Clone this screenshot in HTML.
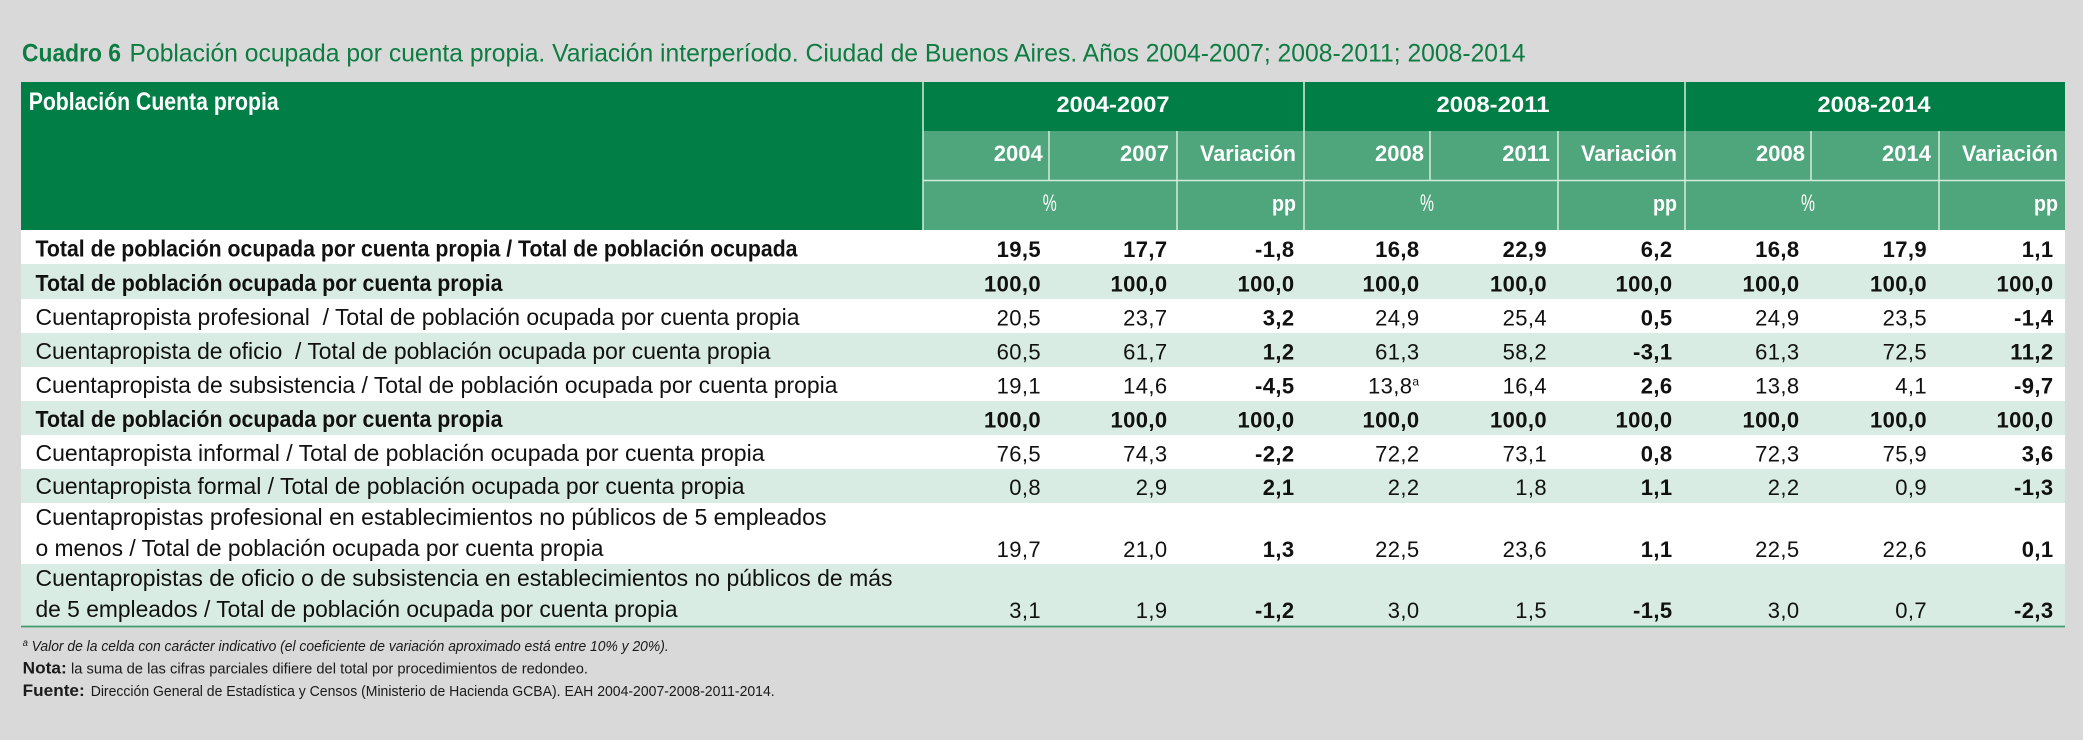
<!DOCTYPE html>
<html>
<head>
<meta charset="utf-8">
<style>
html,body{margin:0;padding:0;background:#d9d9d9;}
svg{display:block;}
.lbl{font-family:"Liberation Sans Narrow","Liberation Sans",sans-serif;font-size:23px;fill:#111;white-space:pre;}
.b{font-weight:bold;}
.num{font-family:"Liberation Sans",sans-serif;font-size:22px;fill:#111;text-anchor:end;letter-spacing:0.4px;}
.hd{font-family:"Liberation Sans",sans-serif;font-size:22px;fill:#fff;font-weight:bold;}
.ft{font-family:"Liberation Sans Narrow","Liberation Sans",sans-serif;font-size:15px;fill:#1a1a1a;white-space:pre;}
.tt{font-family:"Liberation Sans Narrow","Liberation Sans",sans-serif;font-size:25px;fill:#0c7c41;white-space:pre;}
</style>
</head>
<body>
<svg width="2083" height="740" viewBox="0 0 2083 740" xmlns="http://www.w3.org/2000/svg">
<rect x="0" y="0" width="2083" height="740" fill="#d9d9d9"/>

<!-- Title -->
<text class="tt b" x="22" y="61.5" textLength="99" lengthAdjust="spacingAndGlyphs">Cuadro 6</text>
<text class="tt" x="129.5" y="61.5" textLength="1396" lengthAdjust="spacingAndGlyphs">Población ocupada por cuenta propia. Variación interperíodo. Ciudad de Buenos Aires. Años 2004-2007; 2008-2011; 2008-2014</text>

<!-- Header backgrounds -->
<rect x="21" y="82" width="902" height="148" fill="#007e45"/>
<rect x="923" y="82" width="1142" height="49" fill="#007e45"/>
<rect x="923" y="131" width="1142" height="99" fill="#4fa67c"/>

<!-- Header lines -->
<g stroke="#d6ebdf" stroke-width="1.5">
<line x1="923" y1="82" x2="923" y2="230"/>
<line x1="1304" y1="82" x2="1304" y2="230"/>
<line x1="1685" y1="82" x2="1685" y2="230"/>
<line x1="923" y1="180.5" x2="2065" y2="180.5"/>
<line x1="1049" y1="131" x2="1049" y2="180"/>
<line x1="1177" y1="131" x2="1177" y2="230"/>
<line x1="1430" y1="131" x2="1430" y2="180"/>
<line x1="1558" y1="131" x2="1558" y2="230"/>
<line x1="1811" y1="131" x2="1811" y2="180"/>
<line x1="1939" y1="131" x2="1939" y2="230"/>
</g>

<!-- Header text -->
<text class="hd" x="28.7" y="110" textLength="250" lengthAdjust="spacingAndGlyphs" style="font-family:'Liberation Sans Narrow','Liberation Sans',sans-serif;font-size:25px;">Población Cuenta propia</text>

<text class="hd" x="1113" y="112" text-anchor="middle" textLength="113" lengthAdjust="spacingAndGlyphs">2004-2007</text>
<text class="hd" x="1493" y="112" text-anchor="middle" textLength="113" lengthAdjust="spacingAndGlyphs">2008-2011</text>
<text class="hd" x="1874" y="112" text-anchor="middle" textLength="113" lengthAdjust="spacingAndGlyphs">2008-2014</text>

<text class="hd" x="1042.7" y="161" text-anchor="end">2004</text>
<text class="hd" x="1169" y="161" text-anchor="end">2007</text>
<text class="hd" x="1296" y="161" text-anchor="end" textLength="96" lengthAdjust="spacingAndGlyphs">Variación</text>
<text class="hd" x="1424" y="161" text-anchor="end">2008</text>
<text class="hd" x="1550" y="161" text-anchor="end">2011</text>
<text class="hd" x="1677" y="161" text-anchor="end" textLength="96" lengthAdjust="spacingAndGlyphs">Variación</text>
<text class="hd" x="1805" y="161" text-anchor="end">2008</text>
<text class="hd" x="1931" y="161" text-anchor="end">2014</text>
<text class="hd" x="2058" y="161" text-anchor="end" textLength="96" lengthAdjust="spacingAndGlyphs">Variación</text>

<text class="hd" x="1049.7" y="211" text-anchor="middle" textLength="14" lengthAdjust="spacingAndGlyphs" style="font-weight:normal;font-size:24px">%</text>
<text class="hd" x="1427" y="211" text-anchor="middle" textLength="14" lengthAdjust="spacingAndGlyphs" style="font-weight:normal;font-size:24px">%</text>
<text class="hd" x="1808" y="211" text-anchor="middle" textLength="14" lengthAdjust="spacingAndGlyphs" style="font-weight:normal;font-size:24px">%</text>
<text class="hd" x="1296" y="211" text-anchor="end" textLength="24" lengthAdjust="spacingAndGlyphs">pp</text>
<text class="hd" x="1677" y="211" text-anchor="end" textLength="24" lengthAdjust="spacingAndGlyphs">pp</text>
<text class="hd" x="2058" y="211" text-anchor="end" textLength="24" lengthAdjust="spacingAndGlyphs">pp</text>

<!-- Data row backgrounds -->
<rect x="21" y="230" width="2044" height="34" fill="#ffffff"/>
<rect x="21" y="264" width="2044" height="35" fill="#d9ece3"/>
<rect x="21" y="299" width="2044" height="34" fill="#ffffff"/>
<rect x="21" y="333" width="2044" height="34" fill="#d9ece3"/>
<rect x="21" y="367" width="2044" height="34" fill="#ffffff"/>
<rect x="21" y="401" width="2044" height="34" fill="#d9ece3"/>
<rect x="21" y="435" width="2044" height="34" fill="#ffffff"/>
<rect x="21" y="469" width="2044" height="34" fill="#d9ece3"/>
<rect x="21" y="503" width="2044" height="61" fill="#ffffff"/>
<rect x="21" y="564" width="2044" height="62" fill="#d9ece3"/>
<line x1="21" y1="626.5" x2="2065" y2="626.5" stroke="#3f9b6d" stroke-width="1.8"/>

<!-- Row labels -->
<text class="lbl b" x="35.5" y="256.5" textLength="762" lengthAdjust="spacingAndGlyphs">Total de población ocupada por cuenta propia / Total de población ocupada</text>
<text class="lbl b" x="35.5" y="291" textLength="467" lengthAdjust="spacingAndGlyphs">Total de población ocupada por cuenta propia</text>
<text class="lbl" x="35.5" y="325" textLength="764" lengthAdjust="spacingAndGlyphs">Cuentapropista profesional  / Total de población ocupada por cuenta propia</text>
<text class="lbl" x="35.5" y="359" textLength="735" lengthAdjust="spacingAndGlyphs">Cuentapropista de oficio  / Total de población ocupada por cuenta propia</text>
<text class="lbl" x="35.5" y="393" textLength="802" lengthAdjust="spacingAndGlyphs">Cuentapropista de subsistencia / Total de población ocupada por cuenta propia</text>
<text class="lbl b" x="35.5" y="427" textLength="467" lengthAdjust="spacingAndGlyphs">Total de población ocupada por cuenta propia</text>
<text class="lbl" x="35.5" y="461" textLength="729" lengthAdjust="spacingAndGlyphs">Cuentapropista informal / Total de población ocupada por cuenta propia</text>
<text class="lbl" x="35.5" y="494" textLength="709" lengthAdjust="spacingAndGlyphs">Cuentapropista formal / Total de población ocupada por cuenta propia</text>
<text class="lbl" x="35.5" y="525" textLength="791" lengthAdjust="spacingAndGlyphs">Cuentapropistas profesional en establecimientos no públicos de 5 empleados</text>
<text class="lbl" x="35.5" y="556" textLength="568" lengthAdjust="spacingAndGlyphs">o menos / Total de población ocupada por cuenta propia</text>
<text class="lbl" x="35.5" y="586" textLength="857" lengthAdjust="spacingAndGlyphs">Cuentapropistas de oficio o de subsistencia en establecimientos no públicos de más</text>
<text class="lbl" x="35.5" y="617" textLength="642" lengthAdjust="spacingAndGlyphs">de 5 empleados / Total de población ocupada por cuenta propia</text>

<!-- Row 1 -->
<g font-weight="bold">
<text class="num" x="1041" y="257">19,5</text>
<text class="num" x="1167.5" y="257">17,7</text>
<text class="num" x="1294.5" y="257">-1,8</text>
<text class="num" x="1419.5" y="257">16,8</text>
<text class="num" x="1547" y="257">22,9</text>
<text class="num" x="1672.5" y="257">6,2</text>
<text class="num" x="1799.5" y="257">16,8</text>
<text class="num" x="1927" y="257">17,9</text>
<text class="num" x="2053.5" y="257">1,1</text>
</g>
<!-- Row 2 -->
<g font-weight="bold">
<text class="num" x="1041" y="291.5">100,0</text>
<text class="num" x="1167.5" y="291.5">100,0</text>
<text class="num" x="1294.5" y="291.5">100,0</text>
<text class="num" x="1419.5" y="291.5">100,0</text>
<text class="num" x="1547" y="291.5">100,0</text>
<text class="num" x="1672.5" y="291.5">100,0</text>
<text class="num" x="1799.5" y="291.5">100,0</text>
<text class="num" x="1927" y="291.5">100,0</text>
<text class="num" x="2053.5" y="291.5">100,0</text>
</g>
<!-- Row 3 -->
<text class="num" x="1041" y="325.5">20,5</text>
<text class="num" x="1167.5" y="325.5">23,7</text>
<text class="num" x="1294.5" y="325.5" font-weight="bold">3,2</text>
<text class="num" x="1419.5" y="325.5">24,9</text>
<text class="num" x="1547" y="325.5">25,4</text>
<text class="num" x="1672.5" y="325.5" font-weight="bold">0,5</text>
<text class="num" x="1799.5" y="325.5">24,9</text>
<text class="num" x="1927" y="325.5">23,5</text>
<text class="num" x="2053.5" y="325.5" font-weight="bold">-1,4</text>
<!-- Row 4 -->
<text class="num" x="1041" y="359.5">60,5</text>
<text class="num" x="1167.5" y="359.5">61,7</text>
<text class="num" x="1294.5" y="359.5" font-weight="bold">1,2</text>
<text class="num" x="1419.5" y="359.5">61,3</text>
<text class="num" x="1547" y="359.5">58,2</text>
<text class="num" x="1672.5" y="359.5" font-weight="bold">-3,1</text>
<text class="num" x="1799.5" y="359.5">61,3</text>
<text class="num" x="1927" y="359.5">72,5</text>
<text class="num" x="2053.5" y="359.5" font-weight="bold">11,2</text>
<!-- Row 5 -->
<text class="num" x="1041" y="393.5">19,1</text>
<text class="num" x="1167.5" y="393.5">14,6</text>
<text class="num" x="1294.5" y="393.5" font-weight="bold">-4,5</text>
<text class="num" x="1419.5" y="393.5">13,8<tspan font-size="12" dy="-8">a</tspan></text>
<text class="num" x="1547" y="393.5">16,4</text>
<text class="num" x="1672.5" y="393.5" font-weight="bold">2,6</text>
<text class="num" x="1799.5" y="393.5">13,8</text>
<text class="num" x="1927" y="393.5">4,1</text>
<text class="num" x="2053.5" y="393.5" font-weight="bold">-9,7</text>
<!-- Row 6 -->
<g font-weight="bold">
<text class="num" x="1041" y="427.5">100,0</text>
<text class="num" x="1167.5" y="427.5">100,0</text>
<text class="num" x="1294.5" y="427.5">100,0</text>
<text class="num" x="1419.5" y="427.5">100,0</text>
<text class="num" x="1547" y="427.5">100,0</text>
<text class="num" x="1672.5" y="427.5">100,0</text>
<text class="num" x="1799.5" y="427.5">100,0</text>
<text class="num" x="1927" y="427.5">100,0</text>
<text class="num" x="2053.5" y="427.5">100,0</text>
</g>
<!-- Row 7 -->
<text class="num" x="1041" y="461.5">76,5</text>
<text class="num" x="1167.5" y="461.5">74,3</text>
<text class="num" x="1294.5" y="461.5" font-weight="bold">-2,2</text>
<text class="num" x="1419.5" y="461.5">72,2</text>
<text class="num" x="1547" y="461.5">73,1</text>
<text class="num" x="1672.5" y="461.5" font-weight="bold">0,8</text>
<text class="num" x="1799.5" y="461.5">72,3</text>
<text class="num" x="1927" y="461.5">75,9</text>
<text class="num" x="2053.5" y="461.5" font-weight="bold">3,6</text>
<!-- Row 8 -->
<text class="num" x="1041" y="495">0,8</text>
<text class="num" x="1167.5" y="495">2,9</text>
<text class="num" x="1294.5" y="495" font-weight="bold">2,1</text>
<text class="num" x="1419.5" y="495">2,2</text>
<text class="num" x="1547" y="495">1,8</text>
<text class="num" x="1672.5" y="495" font-weight="bold">1,1</text>
<text class="num" x="1799.5" y="495">2,2</text>
<text class="num" x="1927" y="495">0,9</text>
<text class="num" x="2053.5" y="495" font-weight="bold">-1,3</text>
<!-- Row 9 -->
<text class="num" x="1041" y="557">19,7</text>
<text class="num" x="1167.5" y="557">21,0</text>
<text class="num" x="1294.5" y="557" font-weight="bold">1,3</text>
<text class="num" x="1419.5" y="557">22,5</text>
<text class="num" x="1547" y="557">23,6</text>
<text class="num" x="1672.5" y="557" font-weight="bold">1,1</text>
<text class="num" x="1799.5" y="557">22,5</text>
<text class="num" x="1927" y="557">22,6</text>
<text class="num" x="2053.5" y="557" font-weight="bold">0,1</text>
<!-- Row 10 -->
<text class="num" x="1041" y="618">3,1</text>
<text class="num" x="1167.5" y="618">1,9</text>
<text class="num" x="1294.5" y="618" font-weight="bold">-1,2</text>
<text class="num" x="1419.5" y="618">3,0</text>
<text class="num" x="1547" y="618">1,5</text>
<text class="num" x="1672.5" y="618" font-weight="bold">-1,5</text>
<text class="num" x="1799.5" y="618">3,0</text>
<text class="num" x="1927" y="618">0,7</text>
<text class="num" x="2053.5" y="618" font-weight="bold">-2,3</text>

<!-- Footnotes -->
<text class="ft" x="22.7" y="651" font-style="italic" textLength="646" lengthAdjust="spacingAndGlyphs"><tspan font-size="10" dy="-5">a</tspan><tspan dy="5"> Valor de la celda con carácter indicativo (el coeficiente de variación aproximado está entre 10% y 20%).</tspan></text>
<text class="ft b" x="22.7" y="673.5" style="font-size:17px" textLength="44" lengthAdjust="spacingAndGlyphs">Nota:</text>
<text class="ft" x="71" y="673.5" textLength="517" lengthAdjust="spacingAndGlyphs">la suma de las cifras parciales difiere del total por procedimientos de redondeo.</text>
<text class="ft b" x="22.7" y="696" style="font-size:17px" textLength="62" lengthAdjust="spacingAndGlyphs">Fuente:</text>
<text class="ft" x="90.7" y="696" textLength="684" lengthAdjust="spacingAndGlyphs">Dirección General de Estadística y Censos (Ministerio de Hacienda GCBA). EAH 2004-2007-2008-2011-2014.</text>
</svg>
</body>
</html>
